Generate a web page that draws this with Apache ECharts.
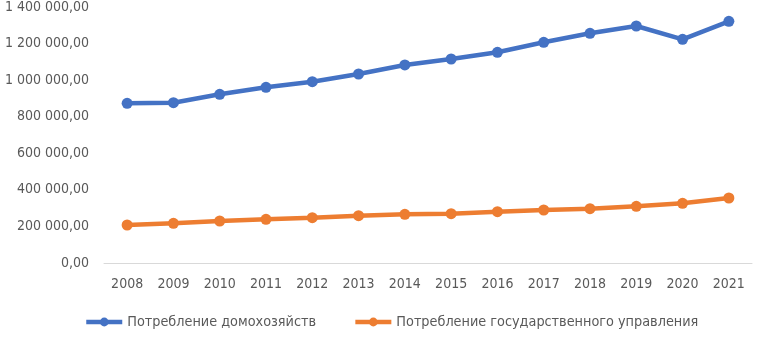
<!DOCTYPE html>
<html>
<head>
<meta charset="utf-8">
<script src="https://cdn.jsdelivr.net/npm/echarts@6/dist/echarts.min.js"></script>
<style>
html,body{margin:0;padding:0;background:#fff;}
#c1{width:771px;height:340px;}
</style>
</head>
<body>
<div id="c1"></div>
<script>
// data
const years = ['2008','2009','2010','2011','2012','2013','2014','2015','2016','2017','2018','2019','2020','2021'];
const households = [873400, 876700, 922600, 960900, 991500, 1033600, 1082900, 1115700, 1152300, 1207000, 1256200, 1296100, 1223400, 1321800];
const government = [207800, 217100, 229700, 239000, 247700, 258700, 266300, 269600, 280600, 289900, 297000, 310100, 326500, 355500];
const seriesNames = ['Потребление домохозяйств', 'Потребление государственного управления'];

const font = '"Liberation Sans Narrow", "DejaVu Sans Condensed", sans-serif';

function fmt(v){
    let s = Math.round(v).toString().replace(/\B(?=(\d{3})+(?!\d))/g, ' ');
    return s + ',00';
}

let chart = echarts.init(document.getElementById('c1'));
let option = {
    backgroundColor: '#fff',
    animation: false,
    color: ['#4472C4', '#ED7D31'],
    grid: {left: 104, right: 19, top: 7, bottom: 77},
    legend: {
        left: 84,
        bottom: 11,
        padding: 0,
        itemWidth: 36,
        itemHeight: 11,
        itemGap: 37,
        itemStyle: {borderWidth: 0},
        lineStyle: {width: 4.5},
        textStyle: {color: '#595959', fontSize: 14.3, fontFamily: font},
        data: seriesNames
    },
    xAxis: {
        type: 'category',
        data: years,
        boundaryGap: true,
        axisLine: {lineStyle: {color: '#D9D9D9', width: 1}},
        axisTick: {show: false},
        axisLabel: {color: '#595959', fontSize: 14, fontFamily: font, margin: 14}
    },
    yAxis: {
        type: 'value',
        min: 0,
        max: 1400000,
        interval: 200000,
        splitLine: {show: false},
        axisLine: {show: false},
        axisTick: {show: false},
        axisLabel: {color: '#595959', fontSize: 14, fontFamily: font, margin: 15, formatter: fmt}
    },
    series: [
        {
            name: seriesNames[0],
            type: 'line',
            data: households,
            symbol: 'circle',
            symbolSize: 11,
            lineStyle: {width: 4.5}
        },
        {
            name: seriesNames[1],
            type: 'line',
            data: government,
            symbol: 'circle',
            symbolSize: 11,
            lineStyle: {width: 4.5}
        }
    ]
};
chart.setOption(option);
</script>
</body>
</html>
